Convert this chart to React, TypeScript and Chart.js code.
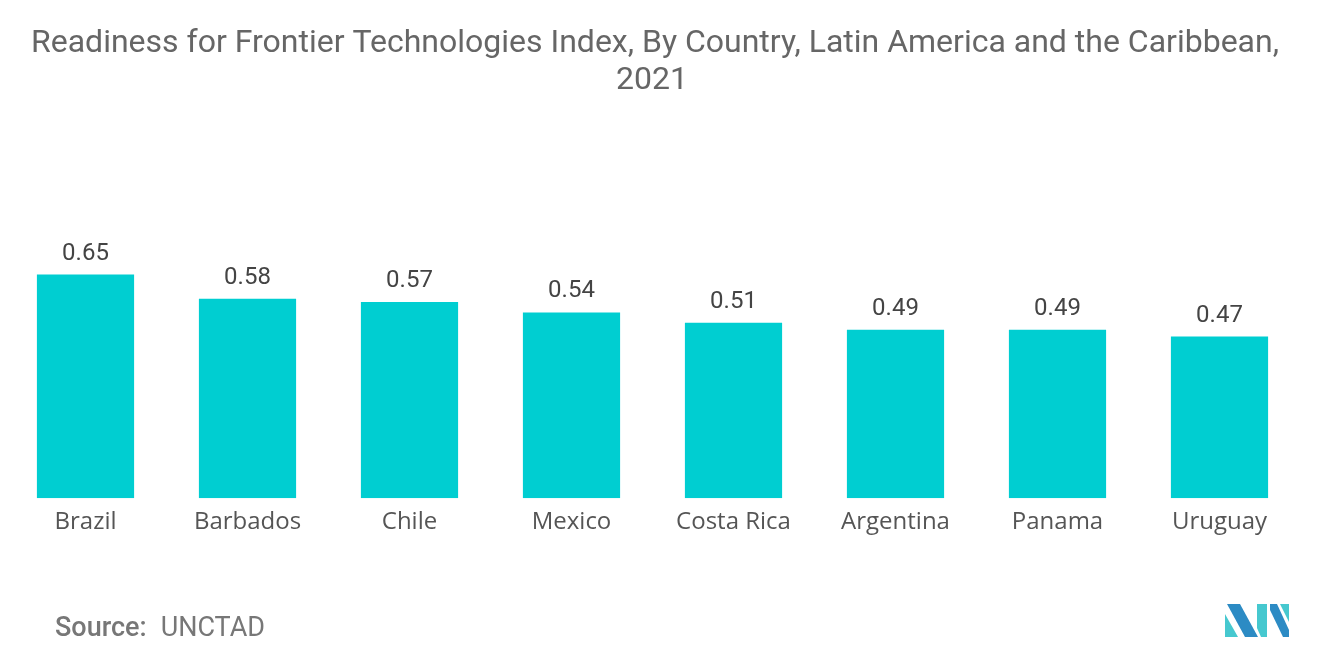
import React, { useEffect, useRef } from "react";
import { Chart, registerables } from "chart.js";

Chart.register(...registerables);

const countries = ["Brazil", "Barbados", "Chile", "Mexico", "Costa Rica", "Argentina", "Panama", "Uruguay"];
const indexValues = [0.65, 0.58, 0.57, 0.54, 0.51, 0.49, 0.49, 0.47];
const titleLines = [
  "Readiness for Frontier Technologies Index, By Country, Latin America and the Caribbean,",
  "2021",
];
const sourceLabel = "Source:";
const sourceText = "UNCTAD";

const FONT = "Roboto, 'Noto Sans', sans-serif";
const LABEL_FONT = "'Open Sans', Roboto, sans-serif";

const decorPlugin = {
  id: "decor",
  afterDatasetsDraw(chart: any) {
    const ctx = chart.ctx;
    ctx.save();
    const meta = chart.getDatasetMeta(0);
    ctx.fillStyle = "#444444";
    ctx.font = `24px ${FONT}`;
    ctx.textAlign = "center";
    ctx.textBaseline = "alphabetic";
    meta.data.forEach((bar: any, i: number) => {
      ctx.fillText(indexValues[i].toFixed(2), bar.x, bar.y - 15);
    });
    ctx.restore();
  },
  afterDraw(chart: any) {
    const ctx = chart.ctx;
    ctx.save();
    // title
    ctx.fillStyle = "#666666";
    ctx.font = `32px ${FONT}`;
    ctx.textAlign = "center";
    ctx.textBaseline = "alphabetic";
    ctx.fillText(titleLines[0], 655, 52);
    ctx.fillText(titleLines[1], 652, 89);
    // source
    ctx.textAlign = "left";
    ctx.fillStyle = "#777777";
    ctx.font = `500 27px ${FONT}`;
    ctx.fillText(sourceLabel, 55, 636);
    const w = ctx.measureText(sourceLabel).width;
    ctx.font = `27px ${FONT}`;
    ctx.fillText(sourceText, 55 + w + 14, 636);
    // logo
    const dark = "#2C8BC4";
    const light = "#46C8CF";
    ctx.fillStyle = light;
    ctx.beginPath();
    ctx.moveTo(1225, 637);
    ctx.lineTo(1225, 614);
    ctx.lineTo(1238, 637);
    ctx.closePath();
    ctx.fill();
    ctx.fillStyle = dark;
    ctx.beginPath();
    ctx.moveTo(1227, 604);
    ctx.lineTo(1240, 604);
    ctx.lineTo(1258, 637);
    ctx.lineTo(1245, 637);
    ctx.closePath();
    ctx.fill();
    ctx.fillStyle = light;
    ctx.beginPath();
    ctx.moveTo(1257, 604);
    ctx.lineTo(1267, 604);
    ctx.lineTo(1267, 637);
    ctx.lineTo(1261, 637);
    ctx.lineTo(1257, 628);
    ctx.closePath();
    ctx.fill();
    ctx.fillStyle = dark;
    ctx.beginPath();
    ctx.moveTo(1270, 604);
    ctx.lineTo(1277, 604);
    ctx.lineTo(1289, 630);
    ctx.lineTo(1289, 637);
    ctx.lineTo(1283, 637);
    ctx.lineTo(1270, 610);
    ctx.closePath();
    ctx.fill();
    ctx.fillStyle = light;
    ctx.beginPath();
    ctx.moveTo(1280, 604);
    ctx.lineTo(1289, 604);
    ctx.lineTo(1289, 622);
    ctx.closePath();
    ctx.fill();
    ctx.restore();
  },
};

export default function App() {
  const canvasRef = useRef<HTMLCanvasElement | null>(null);

  useEffect(() => {
    document.body.style.margin = "0";
    const canvas = canvasRef.current;
    if (!canvas) return;
    const chart = new Chart(canvas, {
      type: "bar",
      data: {
        labels: countries,
        datasets: [
          {
            data: indexValues,
            backgroundColor: "#00CED1",
            borderWidth: 0,
            categoryPercentage: 0.6,
            barPercentage: 1,
          },
        ],
      },
      options: {
        animation: false,
        responsive: false,
        maintainAspectRatio: false,
        layout: { padding: { left: 4.5, right: 19.5, top: 223, bottom: 118 } },
        plugins: {
          legend: { display: false },
          title: { display: false },
          tooltip: { enabled: false },
        },
        scales: {
          x: {
            grid: { display: false, drawTicks: false },
            border: { display: false },
            ticks: {
              color: "#555555",
              font: { family: LABEL_FONT, size: 24 },
              padding: 10,
              maxRotation: 0,
              autoSkip: false,
            },
          },
          y: {
            display: false,
            min: 0,
            max: 0.8,
          },
        },
      },
      plugins: [decorPlugin],
    });
    return () => chart.destroy();
  }, []);

  return (
    <div style={{ width: 1320, height: 665, background: "#fff" }}>
      <canvas ref={canvasRef} width={1320} height={665} style={{ display: "block" }} />
    </div>
  );
}
